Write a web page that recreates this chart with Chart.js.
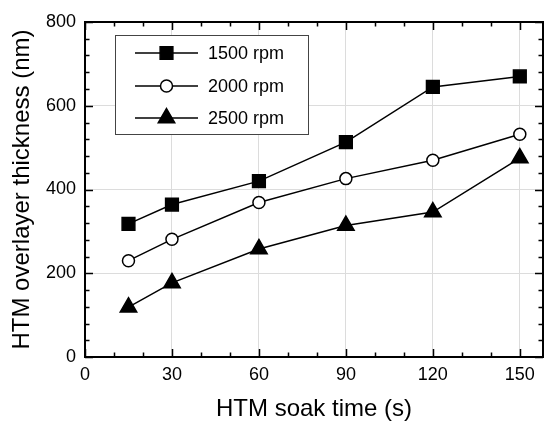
<!DOCTYPE html>
<html>
<head>
<meta charset="utf-8">
<script src="https://cdn.jsdelivr.net/npm/chart.js@4.4.0/dist/chart.umd.min.js"></script>
<style>
  html, body { margin: 0; padding: 0; background: #fff; }
  #wrap { width: 554px; height: 421px; }
</style>
</head>
<body>
<div id="wrap"><canvas id="soakChart" width="554" height="421"></canvas></div>
<script>
// data
const soakTimes = [15, 30, 60, 90, 120, 150];
const rpm1500 = [318, 364, 420, 513, 645, 670];
const rpm2000 = [230, 281, 369, 426, 470, 532];
const rpm2500 = [119, 177, 258, 314, 346, 475];
const seriesLabels = ["1500 rpm", "2000 rpm", "2500 rpm"];
const xTicks = [0, 30, 60, 90, 120, 150];
const yTicks = [0, 200, 400, 600, 800];

const FONT = "Arial, 'Liberation Sans', sans-serif";
const ctx = document.getElementById("soakChart").getContext("2d");

const toPoints = (ys) => soakTimes.map((t, i) => ({ x: t, y: ys[i] }));

const seriesStyle = [
    { pointStyle: "rect", radius: 9, fill: "#000" },
    { pointStyle: "circle", radius: 6, fill: "#fff" },
    { pointStyle: "triangle", radius: 9.5, fill: "#000" },
];

// frame + inward ticks on all four sides
const frameTicks = {
    id: "frameTicks",
    beforeDatasetsDraw(chart) {
        const { ctx, chartArea: a, scales } = chart;
        const x = scales.x, y = scales.y;
        ctx.save();
        ctx.strokeStyle = "#000";
        ctx.lineWidth = 1.5;
        ctx.beginPath();
        for (let v = 0; v <= 150; v += 10) {
            const px = Math.round(x.getPixelForValue(v)) + 0.5;
            const len = v % 30 === 0 ? 8 : 4.5;
            ctx.moveTo(px, a.bottom); ctx.lineTo(px, a.bottom - len);
            ctx.moveTo(px, a.top); ctx.lineTo(px, a.top + len);
        }
        for (let v = 0; v <= 800; v += 40) {
            const py = Math.round(y.getPixelForValue(v)) + 0.5;
            const len = v % 200 === 0 ? 8 : 4.5;
            ctx.moveTo(a.left, py); ctx.lineTo(a.left + len, py);
            ctx.moveTo(a.right, py); ctx.lineTo(a.right - len, py);
        }
        ctx.stroke();
        ctx.lineWidth = 2;
        ctx.strokeRect(a.left, a.top, a.right - a.left, a.bottom - a.top);
        ctx.restore();
    },
};

// boxed legend inside the plot, line + marker
const boxLegend = {
    id: "boxLegend",
    afterDatasetsDraw(chart) {
        const { ctx } = chart;
        ctx.save();
        ctx.fillStyle = "#fff";
        ctx.fillRect(115, 35, 194, 100);
        ctx.strokeStyle = "#444";
        ctx.lineWidth = 1;
        ctx.strokeRect(115.5, 35.5, 193, 99);
        const rows = [53, 86, 118];
        chart.data.datasets.forEach((ds, i) => {
            const yy = rows[i];
            ctx.strokeStyle = "#000";
            ctx.lineWidth = 1.5;
            ctx.beginPath();
            ctx.moveTo(135, yy); ctx.lineTo(198, yy);
            ctx.stroke();
            ctx.fillStyle = ds.pointBackgroundColor;
            Chart.helpers.drawPoint(ctx, {
                pointStyle: ds.pointStyle,
                radius: ds.pointRadius,
                rotation: 0,
                borderWidth: 1.5,
            }, 166.5, yy);
            ctx.fillStyle = "#000";
            ctx.font = "18px " + FONT;
            ctx.textBaseline = "middle";
            ctx.fillText(ds.label, 208, yy + 1);
        });
        ctx.restore();
    },
};

new Chart(ctx, {
    type: "scatter",
    data: {
        datasets: [rpm1500, rpm2000, rpm2500].map((ys, i) => ({
            label: seriesLabels[i],
            data: toPoints(ys),
            showLine: true,
            borderColor: "#000",
            borderWidth: 1.5,
            pointStyle: seriesStyle[i].pointStyle,
            pointRadius: seriesStyle[i].radius,
            pointHoverRadius: seriesStyle[i].radius,
            pointBackgroundColor: seriesStyle[i].fill,
            pointBorderColor: "#000",
            pointBorderWidth: 1.5,
        })),
    },
    options: {
        responsive: false,
        animation: false,
        layout: { padding: { top: 22, right: 5, left: 0, bottom: 0 } },
        plugins: { legend: { display: false }, tooltip: { enabled: false } },
        scales: {
            x: {
                type: "linear",
                min: 0,
                max: 158,
                afterBuildTicks: (s) => { s.ticks = xTicks.map((v) => ({ value: v })); },
                afterFit: (s) => { s.height = 64; },
                ticks: { color: "#000", font: { size: 18, family: FONT }, padding: 7 },
                grid: { color: "#dcdcdc", lineWidth: 1, drawTicks: false },
                border: { display: false },
                title: {
                    display: true,
                    text: "HTM soak time (s)",
                    color: "#000",
                    font: { size: 24, family: FONT, lineHeight: 1 },
                    padding: { top: 0, bottom: 0 },
                },
            },
            y: {
                min: 0,
                max: 800,
                afterBuildTicks: (s) => { s.ticks = yTicks.map((v) => ({ value: v })); },
                afterFit: (s) => { s.width = 85; },
                ticks: { color: "#000", font: { size: 18, family: FONT }, padding: 9 },
                grid: { color: "#dcdcdc", lineWidth: 1, drawTicks: false },
                border: { display: false },
                title: {
                    display: true,
                    text: "HTM overlayer thickness (nm)",
                    color: "#000",
                    font: { size: 24, family: FONT },
                    padding: { top: 8, bottom: 0 },
                },
            },
        },
    },
    plugins: [frameTicks, boxLegend],
});
</script>
</body>
</html>
